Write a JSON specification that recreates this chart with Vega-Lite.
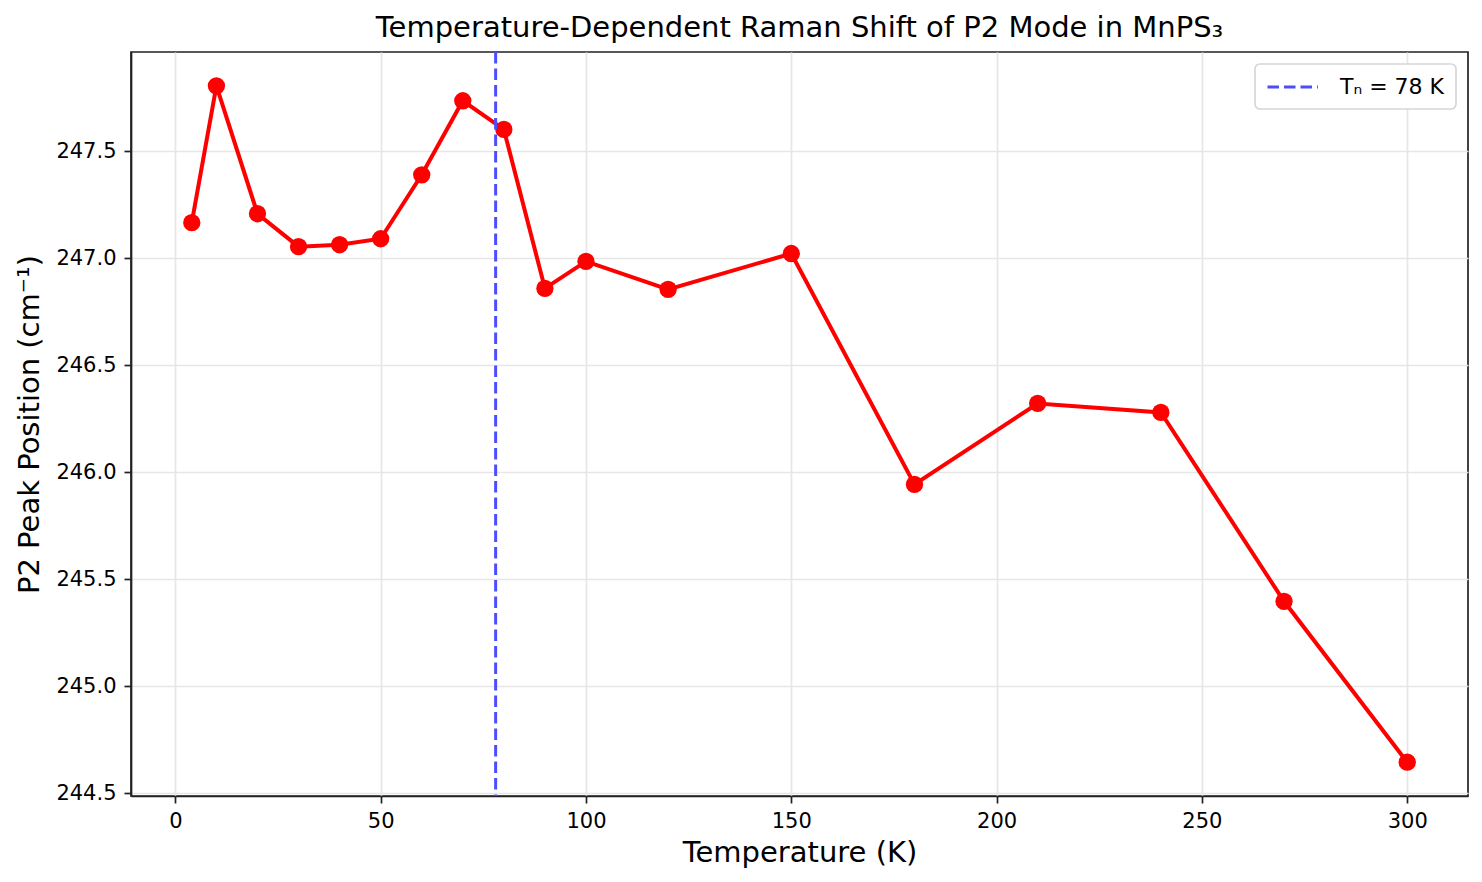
{
  "$schema": "https://vega.github.io/schema/vega-lite/v6.json",
  "autosize": {"type": "none"},
  "padding": {"left": 131, "top": 52, "right": 14, "bottom": 86},
  "width": 1337,
  "height": 744,
  "background": "white",
  "title": {
    "text": "Temperature-Dependent Raman Shift of P2 Mode in MnPS₃",
    "font": "DejaVu Sans",
    "fontSize": 29,
    "fontWeight": "normal",
    "color": "black",
    "anchor": "middle",
    "baseline": "alphabetic",
    "offset": 16,
    "dy": 31
  },
  "config": {
    "font": "DejaVu Sans",
    "view": {"stroke": "#222", "strokeWidth": 1.7},
    "axis": {
      "labelFont": "DejaVu Sans",
      "labelFontSize": 21,
      "labelColor": "black",
      "titleFont": "DejaVu Sans",
      "titleFontSize": 29,
      "titleFontWeight": "normal",
      "titleColor": "black",
      "domainColor": "#222",
      "domainWidth": 1.7,
      "tickColor": "#222",
      "tickWidth": 1.7,
      "tickSize": 7,
      "labelPadding": 7,
      "gridColor": "#e6e6e6",
      "gridWidth": 1.7
    },
    "legend": {
      "orient": "top-right",
      "offset": 12,
      "padding": 11,
      "strokeColor": "#d6d6d6",
      "strokeWidth": 1.7,
      "cornerRadius": 5,
      "fillColor": "white",
      "labelFont": "DejaVu Sans",
      "labelFontSize": 22,
      "labelColor": "black",
      "symbolType": "M-1,0H3.8",
      "symbolSize": 441,
      "symbolStrokeWidth": 3,
      "symbolDash": [11.5, 5],
      "labelOffset": 50,
      "title": null
    }
  },
  "layer": [
    {
      "data": {
        "values": [
          {"T": 4, "peak": 247.167},
          {"T": 10, "peak": 247.807},
          {"T": 20, "peak": 247.209},
          {"T": 30, "peak": 247.055},
          {"T": 40, "peak": 247.064},
          {"T": 50, "peak": 247.092},
          {"T": 60, "peak": 247.391},
          {"T": 70, "peak": 247.737},
          {"T": 80, "peak": 247.603},
          {"T": 90, "peak": 246.86},
          {"T": 100, "peak": 246.986},
          {"T": 120, "peak": 246.855},
          {"T": 150, "peak": 247.023},
          {"T": 180, "peak": 245.944},
          {"T": 210, "peak": 246.322},
          {"T": 240, "peak": 246.28},
          {"T": 270, "peak": 245.397},
          {"T": 300, "peak": 244.645}
        ]
      },
      "layer": [
        {
          "mark": {"type": "line", "color": "#ff0000", "strokeWidth": 4},
          "encoding": {
            "x": {
              "field": "T",
              "type": "quantitative",
              "title": "Temperature (K)",
              "scale": {"domain": [-10.8, 314.8], "nice": false, "zero": false},
              "axis": {"values": [0, 50, 100, 150, 200, 250, 300], "grid": true, "titlePadding": 7}
            },
            "y": {
              "field": "peak",
              "type": "quantitative",
              "title": "P2 Peak Position (cm⁻¹)",
              "scale": {"domain": [244.487, 247.965], "nice": false, "zero": false},
              "axis": {"values": [244.5, 245, 245.5, 246, 246.5, 247, 247.5], "format": ".1f", "grid": true, "labelPadding": 8, "titlePadding": 11}
            }
          }
        },
        {
          "mark": {"type": "point", "filled": true, "color": "#ff0000", "opacity": 1, "size": 300, "shape": "circle"},
          "encoding": {
            "x": {"field": "T", "type": "quantitative"},
            "y": {"field": "peak", "type": "quantitative"}
          }
        }
      ]
    },
    {
      "data": {"values": [{"T": 78, "label": "Tₙ = 78 K"}]},
      "mark": {"type": "rule", "strokeDash": [11.5, 5], "strokeWidth": 3},
      "encoding": {
        "x": {"field": "T", "type": "quantitative"},
        "color": {
          "field": "label",
          "type": "nominal",
          "scale": {"range": ["#4d4dff"]},
          "legend": {"title": null}
        }
      }
    }
  ]
}
